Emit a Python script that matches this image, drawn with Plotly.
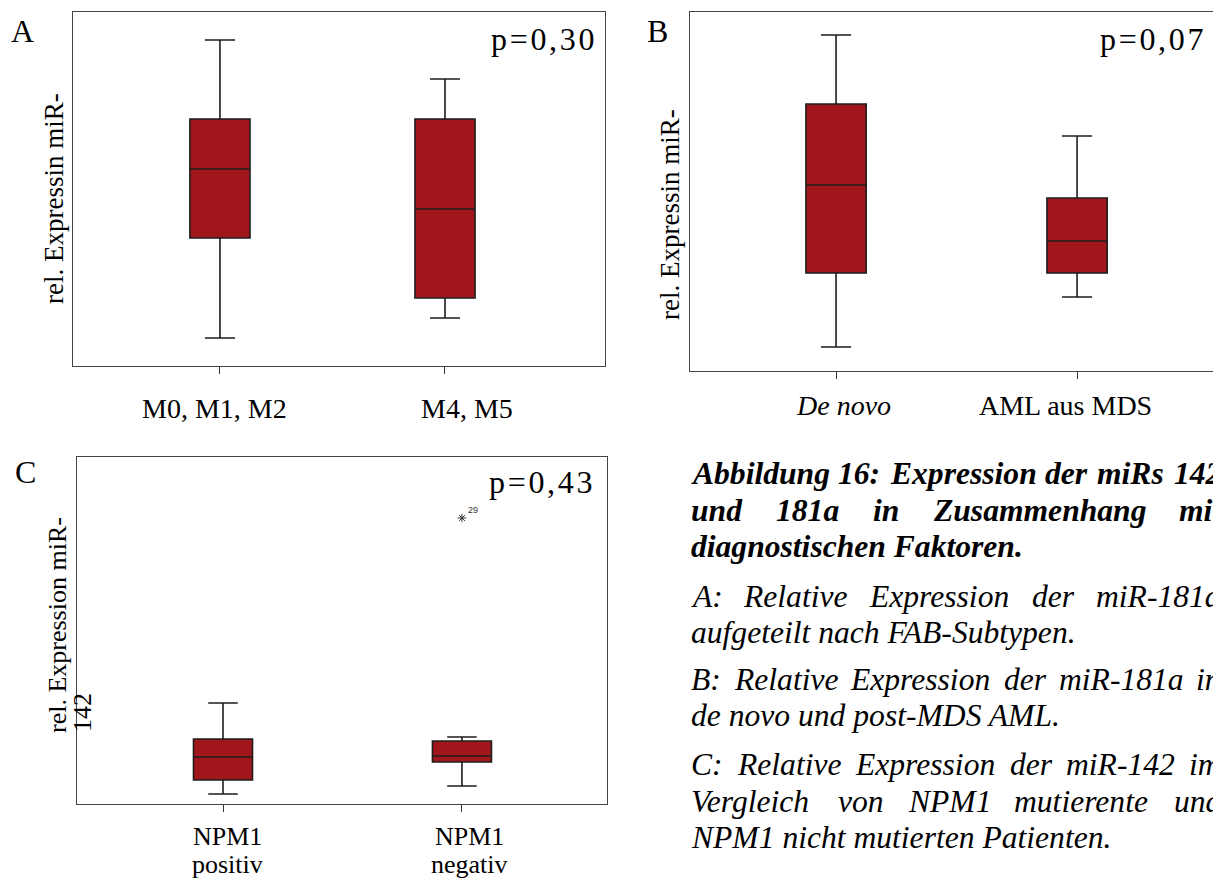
import plotly.graph_objects as go

W, H = 1213, 881

# ---------------- data ----------------
A_categories = ["M0, M1, M2", "M4, M5"]
A_lower = [0.28, 0.48]
A_q1 = [1.28, 0.68]
A_median = [1.97, 1.57]
A_q3 = [2.47, 2.47]
A_upper = [3.26, 2.87]
A_p = "p=0,30"

B_categories = ["De novo", "AML aus MDS"]
B_lower = [0.24, 0.74]
B_q1 = [0.98, 0.98]
B_median = [1.86, 1.30]
B_q3 = [2.67, 1.73]
B_upper = [3.36, 2.35]
B_p = "p=0,07"

C_categories = ["NPM1 positiv", "NPM1 negativ"]
C_lower = [0.10, 0.18]
C_q1 = [0.24, 0.42]
C_median = [0.47, 0.48]
C_q3 = [0.65, 0.63]
C_upper = [1.01, 0.67]
C_outlier_x = ["NPM1 negativ"]
C_outlier_y = [2.86]
C_outlier_label = ["29"]
C_p = "p=0,43"

caption_title = ["Abbildung 16: Expression der miRs 142",
                 "und 181a in Zusammenhang mit",
                 "diagnostischen Faktoren."]
caption_A = ["A: Relative Expression der miR-181a",
             "aufgeteilt nach FAB-Subtypen."]
caption_B = ["B: Relative Expression der miR-181a in",
             "de novo und post-MDS AML."]
caption_C = ["C: Relative Expression der miR-142 im",
             "Vergleich von NPM1 mutierente und",
             "NPM1 nicht mutierten Patienten."]

FILL = "#A1161B"
EDGE = "#1e1e1e"
FRAME = "#444444"
SERIF = "Liberation Serif"


def fx(px):
    return px / W


def fy(py):
    return 1 - py / H


fig = go.Figure()

panels = [
    ("x", "y", A_categories, A_lower, A_q1, A_median, A_q3, A_upper, 0.267),
    ("x2", "y2", B_categories, B_lower, B_q1, B_median, B_q3, B_upper, 0.25),
    ("x3", "y3", C_categories, C_lower, C_q1, C_median, C_q3, C_upper, 0.247),
]
for xa, ya, cats, lo, q1, med, q3, up, bw in panels:
    fig.add_trace(go.Box(
        x=cats, q1=q1, median=med, q3=q3, lowerfence=lo, upperfence=up,
        xaxis=xa, yaxis=ya, fillcolor=FILL,
        line=dict(color=EDGE, width=1.6), width=bw, whiskerwidth=0.5,
        boxpoints=False, showlegend=False, hoverinfo="skip",
    ))

fig.add_trace(go.Scatter(
    x=C_outlier_x, y=C_outlier_y, xaxis="x3", yaxis="y3", mode="markers",
    marker=dict(symbol="asterisk-open", size=7, color="#333333",
                line=dict(color="#333333", width=1)),
    showlegend=False, hoverinfo="skip",
))

common_x = dict(type="category", showline=True, linecolor=FRAME, linewidth=1.3,
                ticks="outside", ticklen=7, tickwidth=1.3, tickcolor="#333",
                showticklabels=False, showgrid=False, zeroline=False, fixedrange=True)
common_y = dict(showline=True, linecolor=FRAME, linewidth=1.3, ticks="",
                showticklabels=False, showgrid=False, zeroline=False, fixedrange=True)

fig.update_layout(
    width=W, height=H, margin=dict(l=0, r=0, t=0, b=0),
    paper_bgcolor="white", plot_bgcolor="white",
    xaxis=dict(common_x, domain=[fx(73), fx(605)], range=[-0.653, 1.711], mirror=True, anchor="y"),
    yaxis=dict(common_y, domain=[fy(366), fy(12)], range=[0, 3.54], mirror=True, anchor="x"),
    xaxis2=dict(common_x, domain=[fx(690), 1.0], range=[-0.606, 1.564], mirror=True, anchor="y2"),
    yaxis2=dict(common_y, domain=[fy(371), fy(12)], range=[0, 3.59], mirror=False, anchor="x2"),
    xaxis3=dict(common_x, domain=[fx(77), fx(607)], range=[-0.611, 1.607], mirror=True, anchor="y3"),
    yaxis3=dict(common_y, domain=[fy(804), fy(457)], range=[0, 3.47], mirror=True, anchor="x3"),
)

ann = []


def paper_text(text, px, py, size, xanchor="center", yanchor="middle", angle=0, color="black"):
    ann.append(dict(text=text, x=fx(px), y=fy(py), xref="paper", yref="paper",
                    xanchor=xanchor, yanchor=yanchor, showarrow=False, textangle=angle,
                    font=dict(family=SERIF, size=size, color=color)))


def spaced(s):
    return "\u200a".join(list(s))


# panel letters
paper_text("A", 22, 31, 32)
paper_text("B", 657, 31, 32)
paper_text("C", 25, 472, 32)

# p values
paper_text(spaced(A_p), 596, 39, 32, xanchor="right")
paper_text(spaced(B_p), 1205, 39, 32, xanchor="right")
paper_text(spaced(C_p), 594, 482, 32, xanchor="right")

# y axis titles
paper_text("rel. Expressin miR-", 54, 199, 27, angle=-90)
paper_text("rel. Expressin miR-", 670, 214, 27, angle=-90)
paper_text("rel. Expression miR-", 57, 625, 26, angle=-90)
paper_text("142", 82, 713, 26, angle=-90)


# category labels (attached to the category axes)
def cat_label(text, xref, cat, py, size, shift, italic=False):
    t = f"<i>{text}</i>" if italic else text
    ann.append(dict(text=t, x=cat, xref=xref, y=fy(py), yref="paper",
                    xanchor="center", yanchor="middle", xshift=shift, showarrow=False,
                    font=dict(family=SERIF, size=size, color="black")))


cat_label(A_categories[0], "x", A_categories[0], 408, 28, -5)
cat_label(A_categories[1], "x", A_categories[1], 408, 28, 22)
cat_label(B_categories[0], "x2", B_categories[0], 405, 28, 7, italic=True)
cat_label(B_categories[1], "x2", B_categories[1], 405, 28, -12)
for cat, shift in zip(C_categories, [4, 8]):
    first, second = cat.split(" ")
    cat_label(first, "x3", cat, 836, 26, shift)
    cat_label(second, "x3", cat, 864, 26, shift)

# outlier label
ann.append(dict(text=C_outlier_label[0], x=C_outlier_x[0], y=C_outlier_y[0], xref="x3", yref="y3",
                xanchor="left", yanchor="middle", xshift=4, yshift=8, showarrow=False,
                font=dict(family="Liberation Sans", size=9, color="#333")))

# ---------------- caption (justified like the source document) ----------------
ITALIC_W = {'A': 611, 'B': 611, 'C': 667, 'D': 722, 'E': 611, 'F': 611, 'L': 556, 'M': 833,
            'N': 667, 'P': 611, 'R': 611, 'S': 500, 'V': 611,
            'a': 500, 'b': 500, 'c': 444, 'd': 500, 'e': 444, 'f': 278, 'g': 500, 'h': 500,
            'i': 278, 'k': 444, 'l': 278, 'm': 722, 'n': 500, 'o': 500, 'p': 500, 'r': 389,
            's': 389, 't': 278, 'u': 500, 'v': 444, 'x': 444, 'y': 444,
            ':': 333, '-': 333, '.': 250, ' ': 250}
BOLDIT_W = {'A': 667, 'E': 667, 'F': 667, 'R': 667, 'Z': 611,
            'a': 500, 'b': 500, 'c': 444, 'd': 500, 'e': 444, 'g': 500, 'h': 556, 'i': 278,
            'k': 500, 'l': 278, 'm': 778, 'n': 556, 'o': 500, 'p': 500, 'r': 389, 's': 389,
            't': 278, 'u': 556, 'x': 500, ':': 333, '.': 250, ' ': 250}
CAP_SIZE = 31.6
TEXT_LEFT = 692
TEXT_RIGHT = 1222
ANN_PAD = 3


def text_w(s, table):
    return sum(table.get(ch, 500) for ch in s) / 1000 * CAP_SIZE


def caption_line(line, py, bold, justify):
    table = BOLDIT_W if bold else ITALIC_W
    wrap = (lambda t: f"<b><i>{t}</i></b>") if bold else (lambda t: f"<i>{t}</i>")
    if not justify:
        paper_text(wrap(line), TEXT_LEFT - ANN_PAD, py, CAP_SIZE, xanchor="left")
        return
    ws = line.split(" ")
    widths = [text_w(w, table) for w in ws]
    gap = (TEXT_RIGHT - TEXT_LEFT - sum(widths)) / (len(ws) - 1)
    pos = TEXT_LEFT
    for w, wd in zip(ws, widths):
        paper_text(wrap(w), pos - ANN_PAD, py, CAP_SIZE, xanchor="left")
        pos += wd + gap


caption_line(caption_title[0], 473, True, True)
caption_line(caption_title[1], 510, True, True)
caption_line(caption_title[2], 546, True, False)
caption_line(caption_A[0], 596, False, True)
caption_line(caption_A[1], 632, False, False)
caption_line(caption_B[0], 679, False, True)
caption_line(caption_B[1], 715, False, False)
caption_line(caption_C[0], 764, False, True)
caption_line(caption_C[1], 801, False, True)
caption_line(caption_C[2], 837, False, False)

fig.update_layout(annotations=ann)

fig.write_html("out.html", config={"displayModeBar": False},
               post_script="document.body.style.margin='0';")
